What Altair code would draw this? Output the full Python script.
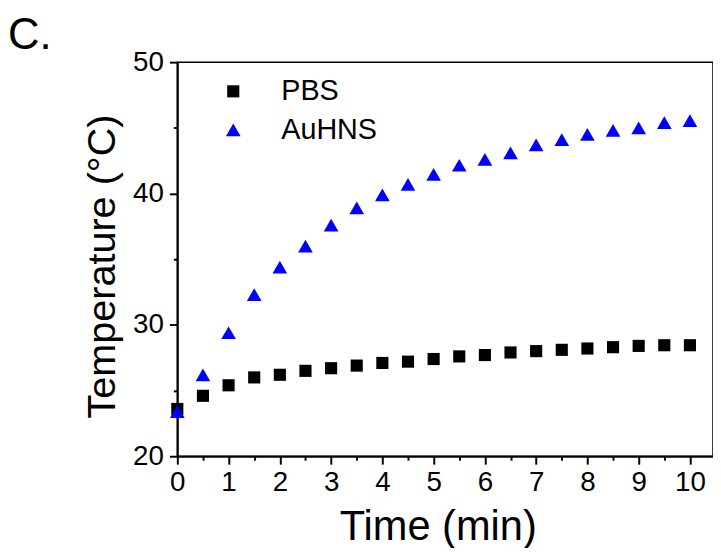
import altair as alt
import pandas as pd

time_min = [0, 0.5, 1, 1.5, 2, 2.5, 3, 3.5, 4, 4.5, 5, 5.5, 6, 6.5, 7, 7.5, 8, 8.5, 9, 9.5, 10]
pbs = [23.6, 24.6, 25.4, 26.0, 26.2, 26.5, 26.7, 26.9, 27.1, 27.2, 27.4, 27.6, 27.7, 27.9, 28.0,
       28.1, 28.2, 28.3, 28.4, 28.45, 28.45]
auhns = [23.4, 26.2, 29.4, 32.3, 34.4, 36.0, 37.6, 38.9, 39.9, 40.7, 41.45, 42.15, 42.6, 43.1, 43.7,
         44.1, 44.5, 44.8, 45.0, 45.4, 45.55]
series_names = ["PBS", "AuHNS"]
x_ticks = [i * 0.5 for i in range(21)]
y_ticks = [20, 25, 30, 35, 40, 45, 50]

rows = []
for t, v in zip(time_min, pbs):
    rows.append({"time": t, "temp": v, "series": "PBS"})
for t, v in zip(time_min, auhns):
    rows.append({"time": t, "temp": v, "series": "AuHNS"})
df = pd.DataFrame(rows)

FONT = "Liberation Sans"

legend = alt.Legend(
    orient="none", legendX=42, legendY=15, title=None,
    labelFontSize=29, labelFont=FONT, labelColor="black",
    symbolSize=160, labelOffset=34, rowPadding=9, padding=0,
    symbolStrokeWidth=0,
)

points = alt.Chart(df).mark_point(filled=True, opacity=1, strokeWidth=0).encode(
    x=alt.X("time:Q",
            scale=alt.Scale(domain=[0, 10.45], nice=False, zero=False),
            axis=alt.Axis(
                values=x_ticks, grid=False,
                labelExpr="datum.value % 1 === 0 ? format(datum.value, 'd') : ''",
                tickSize={"condition": {"test": "datum.value % 1 === 0", "value": 8}, "value": 4},
                title="Time (min)", titleX=263, titleY=84, titleAlign="center",
                titleBaseline="alphabetic", titleFontSize=42, titleFontWeight="normal",
                labelFontSize=28, labelPadding=5, labelFlush=False, labelOverlap=False,
                labelBound=False,
            )),
    y=alt.Y("temp:Q",
            scale=alt.Scale(domain=[20, 50], nice=False, zero=False),
            axis=alt.Axis(
                values=y_ticks, grid=False,
                labelExpr="datum.value % 10 === 0 ? format(datum.value, 'd') : ''",
                tickSize={"condition": {"test": "datum.value % 10 === 0", "value": 8}, "value": 4},
                title="Temperature (°C)", titleAngle=270, titleX=-63, titleY=206,
                titleAlign="center", titleBaseline="alphabetic", titleFontSize=40,
                titleFontWeight="normal",
                labelFontSize=28, labelPadding=6, labelFlush=False, labelOverlap=False,
                labelBound=False,
            )),
    color=alt.Color("series:N", sort=series_names,
                    scale=alt.Scale(domain=series_names, range=["black", "#0000ff"]),
                    legend=legend),
    shape=alt.Shape("series:N", sort=series_names,
                    scale=alt.Scale(domain=series_names, range=["square", "triangle-up"]),
                    legend=legend),
    size=alt.Size("series:N", sort=series_names,
                  scale=alt.Scale(domain=series_names, range=[150, 220]),
                  legend=None),
)

panel = pd.DataFrame({"label": ["C."]})
panel_text = alt.Chart(panel).mark_text(
    align="left", baseline="alphabetic", fontSize=44, font=FONT, color="black"
).encode(text="label:N", x=alt.value(-171), y=alt.value(-13))

chart = alt.layer(points, panel_text).properties(
    width=541, height=398,
    autosize=alt.AutoSizeParams(type="none"),
    padding={"left": 171, "top": 52, "right": 0, "bottom": 90},
    background="white",
).configure_view(
    stroke="black", strokeWidth=1.5
).configure_axis(
    grid=False, domainColor="black", domainWidth=2, tickColor="black", tickWidth=2,
    labelColor="black", titleColor="black", labelFont=FONT, titleFont=FONT,
    titleFontWeight="normal",
)

chart.save("out.html", embed_options={"renderer": "svg", "actions": False})
